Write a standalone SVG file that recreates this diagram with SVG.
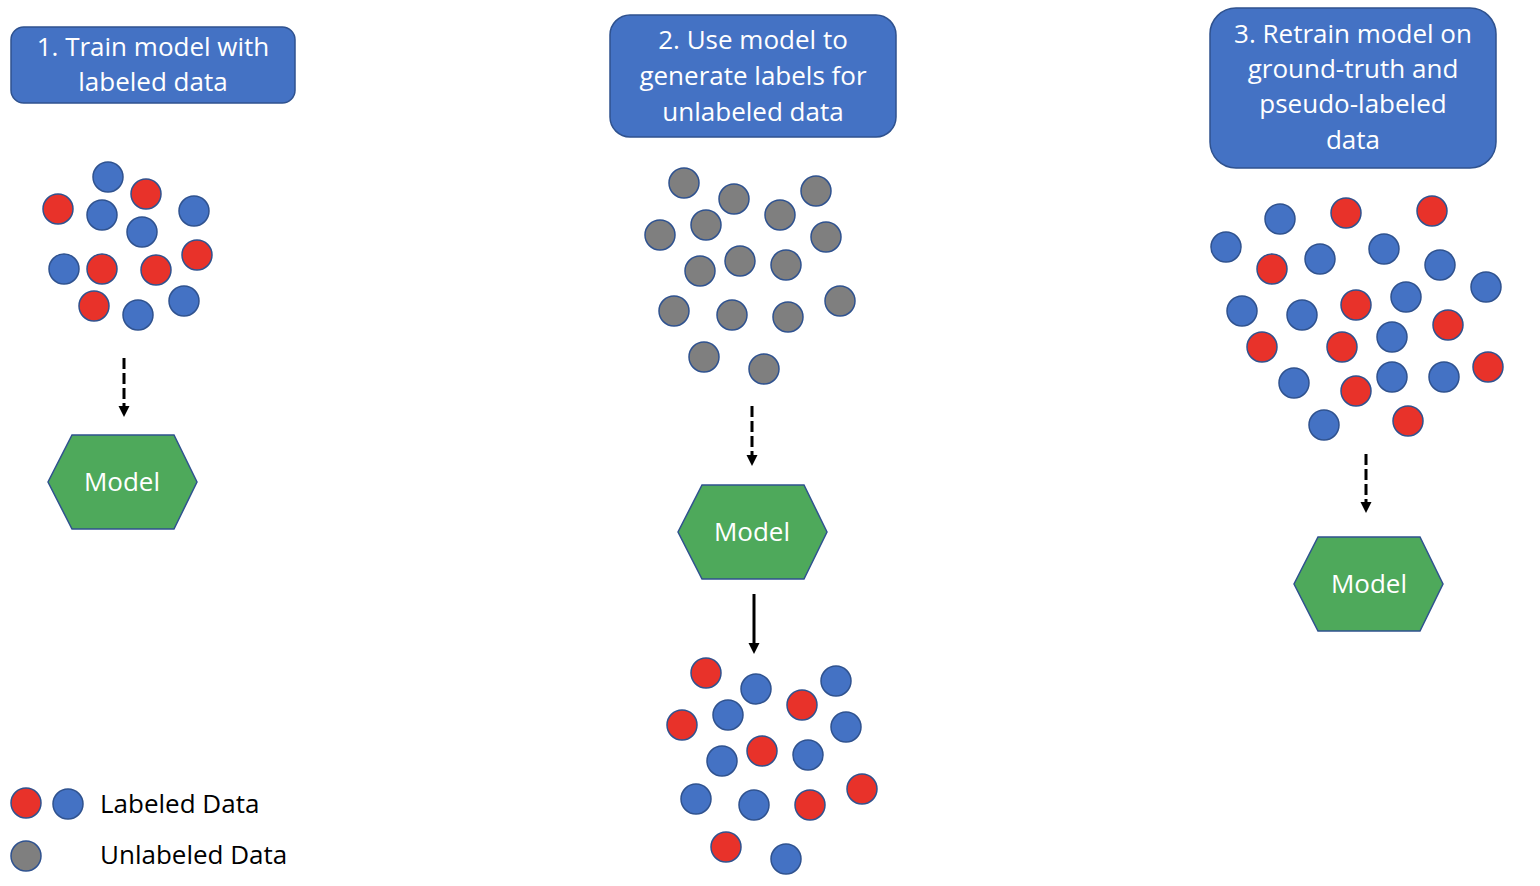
<svg xmlns="http://www.w3.org/2000/svg" width="1540" height="886" viewBox="0 0 1540 886">
<defs>
<marker id="ah" markerUnits="userSpaceOnUse" markerWidth="12" markerHeight="12" refX="0" refY="5.5" orient="auto">
<path d="M0,0 L11,5.5 L0,11 z" fill="#000"/>
</marker>
</defs>
<style>
.box{fill:#4472C4;stroke:#2F528F;stroke-width:1.5}
.bt{font-family:"Open Sans","Liberation Sans",sans-serif;font-size:26px;fill:#fff;text-anchor:middle}
.hex{fill:#4EA95B;stroke:#2F528F;stroke-width:1.5}
.ht{font-family:"Open Sans","Liberation Sans",sans-serif;font-size:26px;fill:#fff;text-anchor:middle}
.lt{font-family:"Open Sans","Liberation Sans",sans-serif;font-size:26px;fill:#000}
.r{fill:#E8322A;stroke:#2F528F;stroke-width:1.5}
.b{fill:#4472C4;stroke:#2F528F;stroke-width:1.5}
.g{fill:#7F7F7F;stroke:#2F528F;stroke-width:1.5}
.dash{stroke:#000;stroke-width:3;fill:none;stroke-dasharray:11 4;marker-end:url(#ah)}
.solid{stroke:#000;stroke-width:3;fill:none;marker-end:url(#ah)}
</style>
<rect width="1540" height="886" fill="#fff"/>

<g id="step1">
<rect class="box" x="11" y="27" width="284" height="76" rx="12.7"/>
<text class="bt" x="153" y="55.5">1. Train model with</text>
<text class="bt" x="153" y="91">labeled data</text>
</g>

<g id="step2">
<rect class="box" x="610" y="15" width="286" height="122" rx="20"/>
<text class="bt" x="753" y="49.3">2. Use model to</text>
<text class="bt" x="753" y="85">generate labels for</text>
<text class="bt" x="753" y="120.5">unlabeled data</text>
</g>

<g id="step3">
<rect class="box" x="1210" y="8" width="286" height="160" rx="26"/>
<text class="bt" x="1353" y="42.7">3. Retrain model on</text>
<text class="bt" x="1353" y="78">ground-truth and</text>
<text class="bt" x="1353" y="113.3">pseudo-labeled</text>
<text class="bt" x="1353" y="148.6">data</text>
</g>

<g id="data1">
<circle class="b" cx="108" cy="177" r="15"/>
<circle class="r" cx="146" cy="194" r="15"/>
<circle class="r" cx="58" cy="209" r="15"/>
<circle class="b" cx="102" cy="215" r="15"/>
<circle class="b" cx="194" cy="211" r="15"/>
<circle class="b" cx="142" cy="232" r="15"/>
<circle class="r" cx="197" cy="255" r="15"/>
<circle class="b" cx="64" cy="269" r="15"/>
<circle class="r" cx="102" cy="269" r="15"/>
<circle class="r" cx="156" cy="270" r="15"/>
<circle class="b" cx="184" cy="301" r="15"/>
<circle class="r" cx="94" cy="306" r="15"/>
<circle class="b" cx="138" cy="315" r="15"/>
</g>

<g id="data2">
<circle class="g" cx="684" cy="183" r="15"/>
<circle class="g" cx="734" cy="199" r="15"/>
<circle class="g" cx="816" cy="191" r="15"/>
<circle class="g" cx="780" cy="215" r="15"/>
<circle class="g" cx="706" cy="225" r="15"/>
<circle class="g" cx="660" cy="235" r="15"/>
<circle class="g" cx="826" cy="237" r="15"/>
<circle class="g" cx="700" cy="271" r="15"/>
<circle class="g" cx="740" cy="261" r="15"/>
<circle class="g" cx="786" cy="265" r="15"/>
<circle class="g" cx="674" cy="311" r="15"/>
<circle class="g" cx="732" cy="315" r="15"/>
<circle class="g" cx="788" cy="317" r="15"/>
<circle class="g" cx="840" cy="301" r="15"/>
<circle class="g" cx="704" cy="357" r="15"/>
<circle class="g" cx="764" cy="369" r="15"/>
</g>

<g id="data2-labeled">
<circle class="r" cx="706" cy="673" r="15"/>
<circle class="b" cx="756" cy="689" r="15"/>
<circle class="b" cx="836" cy="681" r="15"/>
<circle class="r" cx="802" cy="705" r="15"/>
<circle class="b" cx="728" cy="715" r="15"/>
<circle class="r" cx="682" cy="725" r="15"/>
<circle class="b" cx="846" cy="727" r="15"/>
<circle class="b" cx="722" cy="761" r="15"/>
<circle class="r" cx="762" cy="751" r="15"/>
<circle class="b" cx="808" cy="755" r="15"/>
<circle class="r" cx="862" cy="789" r="15"/>
<circle class="b" cx="696" cy="799" r="15"/>
<circle class="b" cx="754" cy="805" r="15"/>
<circle class="r" cx="810" cy="805" r="15"/>
<circle class="r" cx="726" cy="847" r="15"/>
<circle class="b" cx="786" cy="859" r="15"/>
</g>

<g id="data3">
<circle class="b" cx="1280" cy="219" r="15"/>
<circle class="r" cx="1346" cy="213" r="15"/>
<circle class="r" cx="1432" cy="211" r="15"/>
<circle class="b" cx="1226" cy="247" r="15"/>
<circle class="r" cx="1272" cy="269" r="15"/>
<circle class="b" cx="1320" cy="259" r="15"/>
<circle class="b" cx="1384" cy="249" r="15"/>
<circle class="b" cx="1440" cy="265" r="15"/>
<circle class="b" cx="1486" cy="287" r="15"/>
<circle class="b" cx="1242" cy="311" r="15"/>
<circle class="b" cx="1302" cy="315" r="15"/>
<circle class="r" cx="1356" cy="305" r="15"/>
<circle class="b" cx="1406" cy="297" r="15"/>
<circle class="r" cx="1448" cy="325" r="15"/>
<circle class="r" cx="1262" cy="347" r="15"/>
<circle class="r" cx="1342" cy="347" r="15"/>
<circle class="b" cx="1392" cy="337" r="15"/>
<circle class="r" cx="1488" cy="367" r="15"/>
<circle class="b" cx="1294" cy="383" r="15"/>
<circle class="r" cx="1356" cy="391" r="15"/>
<circle class="b" cx="1392" cy="377" r="15"/>
<circle class="b" cx="1444" cy="377" r="15"/>
<circle class="b" cx="1324" cy="425" r="15"/>
<circle class="r" cx="1408" cy="421" r="15"/>
</g>

<g id="model1">
<polygon class="hex" points="72,435 174,435 197,482 174,529 72,529 48,482"/>
<text class="ht" x="122" y="491">Model</text>
</g>

<g id="model2">
<polygon class="hex" points="702,485 804,485 827,532 804,579 702,579 678,532"/>
<text class="ht" x="752" y="541">Model</text>
</g>

<g id="model3">
<polygon class="hex" points="1318,537 1420,537 1443,584 1420,631 1318,631 1294,584"/>
<text class="ht" x="1369" y="593">Model</text>
</g>

<g id="connectors">
<line class="dash" x1="124" y1="358" x2="124" y2="406"/>
<line class="dash" x1="752" y1="406" x2="752" y2="455"/>
<line class="solid" x1="754" y1="594" x2="754" y2="643"/>
<line class="dash" x1="1366" y1="454" x2="1366" y2="502"/>
</g>

<g id="legend">
<circle class="r" cx="26" cy="803" r="15"/>
<circle class="b" cx="68" cy="804" r="15"/>
<circle class="g" cx="26" cy="856" r="15"/>
<text class="lt" x="100" y="813">Labeled Data</text>
<text class="lt" x="100" y="864">Unlabeled Data</text>
</g>
</svg>
